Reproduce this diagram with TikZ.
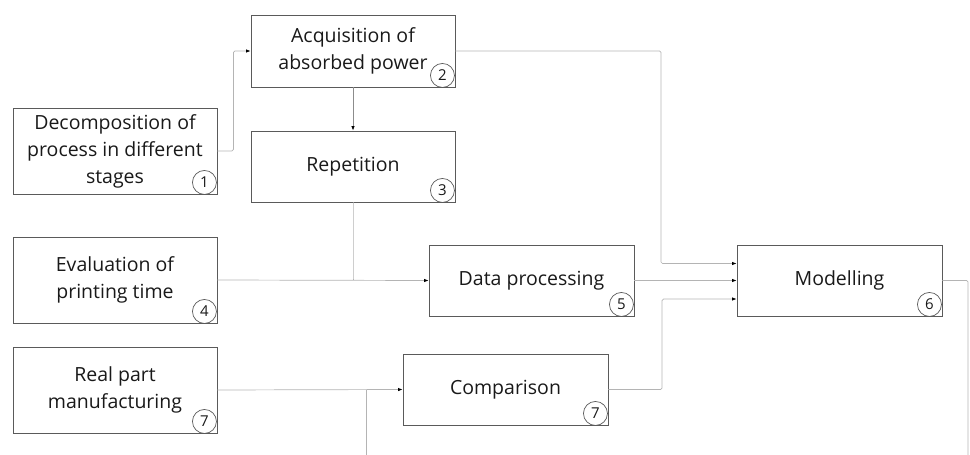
\documentclass[tikz,border=0pt]{standalone}
\usepackage{fontspec}
\setmainfont{Open Sans}
\usetikzlibrary{arrows.meta}
\definecolor{boxline}{HTML}{5A5A5A}
\definecolor{wire}{HTML}{B4B4B4}
\definecolor{darkwire}{HTML}{8C8C8C}
\begin{document}
\begin{tikzpicture}[x=1pt,y=-1pt,
  stage/.style={draw=boxline,line width=0.9pt,minimum width=204pt,align=center,
    font=\fontsize{19.5}{27}\selectfont,text=black!90,inner sep=0pt},
  num/.style={draw=boxline,circle,line width=0.7pt,minimum size=24pt,inner sep=0pt,
    font=\fontsize{15}{15}\selectfont,text=black!90},
  link/.style={draw=wire,line width=0.7pt,rounded corners=1.5pt,
    -{Latex[length=4.5pt,width=3.5pt,black]}},
  plain/.style={draw=wire,line width=0.7pt,rounded corners=1.5pt}]
\useasboundingbox (0,0) rectangle (970,455);

% stage boxes
\node[stage,minimum height=86pt] (b1) at (115,151) {Decomposition of\\process in different\\stages};
\node[stage,minimum height=72pt] (b2) at (353,51) {Acquisition of\\absorbed power};
\node[stage,minimum height=71pt] (b3) at (353,166.5) {Repetition};
\node[stage,minimum height=86pt] (b4) at (115,280) {Evaluation of\\printing time};
\node[stage,minimum height=86pt] (b7) at (115,390) {Real part\\manufacturing};
\node[stage,minimum width=205pt,minimum height=71pt] (b5) at (531.5,280.5) {Data processing};
\node[stage,minimum width=205pt,minimum height=71pt] (bc) at (505.5,389.5) {Comparison};
\node[stage,minimum width=205pt,minimum height=71pt] (b6) at (839.5,280.5) {Modelling};

% step numbers
\node[num] (n1) at ([xshift=-13pt,yshift=12pt]b1.south east) {1};
\node[num] (n2) at ([xshift=-13pt,yshift=12pt]b2.south east) {2};
\node[num] (n3) at ([xshift=-13pt,yshift=12pt]b3.south east) {3};
\node[num] (n4) at ([xshift=-13pt,yshift=12pt]b4.south east) {4};
\node[num] (n7) at ([xshift=-13pt,yshift=12pt]b7.south east) {7};
\node[num] (n5) at ([xshift=-13pt,yshift=12pt]b5.south east) {5};
\node[num] (nc) at ([xshift=-13pt,yshift=12pt]bc.south east) {7};
\node[num] (n6) at ([xshift=-13pt,yshift=12pt]b6.south east) {6};

% free ends of the loop lines
\coordinate (loopR) at (968,455);
\coordinate (loopL) at (366,455);

% connectors
\draw[link] (b1.east) -- ++(16,0) |- (b2.west);
\draw[link,draw=darkwire] (b2.south) -- (b3.north);
\draw[link] (b2.east) -- (661,51) |- ([yshift=17pt]b6.west);
\draw[plain] (b3.south) |- (353,280);
\draw[link] (b4.east) -- (b5.west);
\draw[link] (b5.east) -- (b6.west);
\draw[link] (bc.east) -- (662,389.5) |- ([yshift=-18.5pt]b6.west);
\draw[link] (b7.east) -- (bc.west);
\draw[plain] (loopL) -- (366,389.5);
\draw[plain] (b6.east) -| (loopR);
\end{tikzpicture}
\end{document}
